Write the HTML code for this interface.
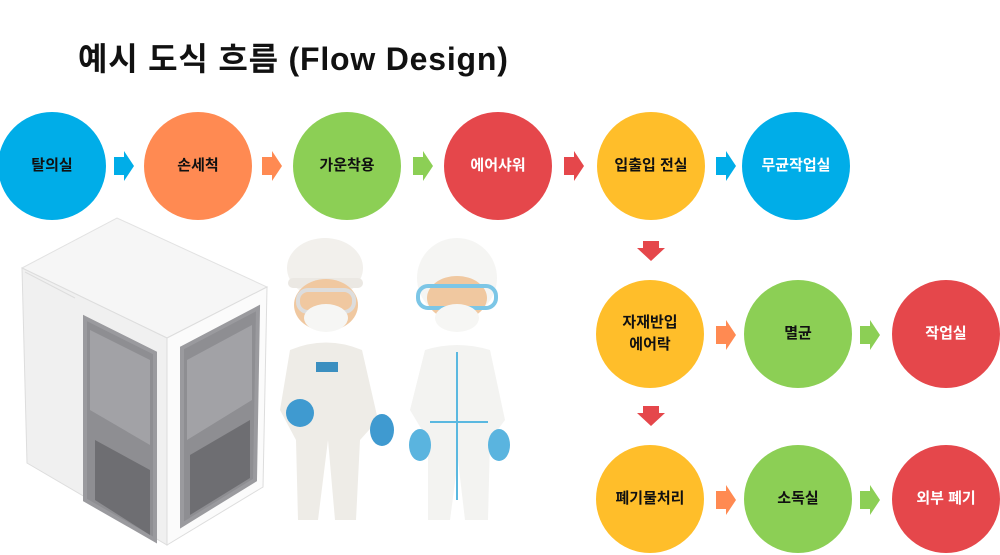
<!DOCTYPE html>
<html><head><meta charset="utf-8"><style>
body{margin:0;background:#fff;width:1000px;height:555px;overflow:hidden;position:relative;font-family:"Liberation Sans","Noto Sans CJK KR",sans-serif}
.t{position:absolute;left:78px;top:34px;font-size:32px;font-weight:bold;color:#111;letter-spacing:0.8px}
.c{position:absolute;width:108px;height:108px;border-radius:50%;display:flex;align-items:center;justify-content:center;text-align:center;font-size:15px;font-weight:bold;line-height:1.45;color:#111}
.w{color:#fff}
</style></head><body>
<div class="t">예시 도식 흐름 (Flow Design)</div>
<svg width="1000" height="555" style="position:absolute;left:0;top:0">
<g>
<polygon points="114,157 124,157 124,151 134,166 124,181 124,175 114,175" fill="#00ADE8"/>
<polygon points="262,157 272,157 272,151 282,166 272,181 272,175 262,175" fill="#FF8A52"/>
<polygon points="413,157 423,157 423,151 433,166 423,181 423,175 413,175" fill="#8CCF55"/>
<polygon points="564,157 574,157 574,151 584,166 574,181 574,175 564,175" fill="#E5474B"/>
<polygon points="716,157 726,157 726,151 736,166 726,181 726,175 716,175" fill="#00ADE8"/>
<polygon points="643,241 659,241 659,248 665,248 651,261 637,248 643,248" fill="#E5474B"/>
<polygon points="643,406 659,406 659,413 665,413 651,426 637,413 643,413" fill="#E5474B"/>
<polygon points="716,326 726,326 726,320 736,335 726,350 726,344 716,344" fill="#FF8A52"/>
<polygon points="860,326 870,326 870,320 880,335 870,350 870,344 860,344" fill="#8CCF55"/>
<polygon points="716,491 726,491 726,485 736,500 726,515 726,509 716,509" fill="#FF8A52"/>
<polygon points="860,491 870,491 870,485 880,500 870,515 870,509 860,509" fill="#8CCF55"/>
</g>
<polygon points="22,268 117,218 267,287 167,338" fill="#f6f6f6" stroke="#e2e2e2"/>
<polygon points="22,268 167,338 167,545 27,463" fill="#f0f0f0" stroke="#ddd"/>
<polygon points="167,338 267,287 263,487 167,545" fill="#fbfbfb" stroke="#ddd"/>
<polygon points="85,318 155,353 155,540 85,500" fill="#8e8e92" stroke="#9a9a9e" stroke-width="4"/>
<polygon points="90,330 150,360 150,445 90,410" fill="#a2a2a6"/>
<polygon points="95,440 150,470 150,535 95,500" fill="#6e6e72"/>
<polygon points="182,348 258,308 255,480 182,525" fill="#8e8e92" stroke="#9a9a9e" stroke-width="4"/>
<polygon points="187,360 252,325 252,400 187,440" fill="#a2a2a6"/>
<polygon points="190,455 250,420 250,478 190,515" fill="#6e6e72"/>
<line x1="25" y1="272" x2="75" y2="298" stroke="#ddd"/>
<ellipse cx="325" cy="268" rx="38" ry="30" fill="#f2f0ec"/>
<rect x="288" y="278" width="75" height="10" rx="5" fill="#ebe8e3"/>
<ellipse cx="326" cy="305" rx="32" ry="26" fill="#f0c8a0"/>
<rect x="298" y="290" width="56" height="22" rx="10" fill="none" stroke="#ddd" stroke-width="4"/>
<ellipse cx="326" cy="318" rx="22" ry="14" fill="#f6f6f4"/>
<path d="M290,350 Q326,335 362,350 L378,420 L360,440 L356,520 L335,520 L328,440 L318,520 L298,520 L296,440 L280,410 Z" fill="#eeece7"/>
<rect x="316" y="362" width="22" height="10" fill="#3b8fc0"/>
<ellipse cx="300" cy="413" rx="14" ry="14" fill="#3f9ad0"/>
<ellipse cx="382" cy="430" rx="12" ry="16" fill="#3f9ad0"/>
<ellipse cx="457" cy="278" rx="40" ry="40" fill="#f5f5f3"/>
<ellipse cx="457" cy="298" rx="30" ry="22" fill="#f0c8a0"/>
<rect x="418" y="286" width="78" height="22" rx="10" fill="none" stroke="#7cc6e6" stroke-width="4"/>
<ellipse cx="457" cy="318" rx="22" ry="14" fill="#f6f6f4"/>
<path d="M425,350 Q457,340 490,350 L505,420 L490,440 L488,520 L465,520 L458,460 L450,520 L428,520 L428,440 L410,410 Z" fill="#f3f3f1"/>
<line x1="457" y1="352" x2="457" y2="500" stroke="#5ab8e0" stroke-width="2"/>
<line x1="430" y1="422" x2="488" y2="422" stroke="#5ab8e0" stroke-width="2"/>
<ellipse cx="420" cy="445" rx="11" ry="16" fill="#5ab4df"/>
<ellipse cx="499" cy="445" rx="11" ry="16" fill="#5ab4df"/>
</svg>
<div class="c" style="left:-2px;top:112px;background:#00ADE8">탈의실</div>
<div class="c" style="left:144px;top:112px;background:#FF8A52">손세척</div>
<div class="c" style="left:293px;top:112px;background:#8CCF55">가운착용</div>
<div class="c w" style="left:444px;top:112px;background:#E5474B">에어샤워</div>
<div class="c" style="left:597px;top:112px;background:#FFBE2A">입출입 전실</div>
<div class="c w" style="left:742px;top:112px;background:#00ADE8">무균작업실</div>
<div class="c" style="left:596px;top:280px;background:#FFBE2A">자재반입<br>에어락</div>
<div class="c" style="left:744px;top:280px;background:#8CCF55">멸균</div>
<div class="c w" style="left:892px;top:280px;background:#E5474B">작업실</div>
<div class="c" style="left:596px;top:445px;background:#FFBE2A">폐기물처리</div>
<div class="c" style="left:744px;top:445px;background:#8CCF55">소독실</div>
<div class="c w" style="left:892px;top:445px;background:#E5474B">외부 폐기</div>
</body></html>
